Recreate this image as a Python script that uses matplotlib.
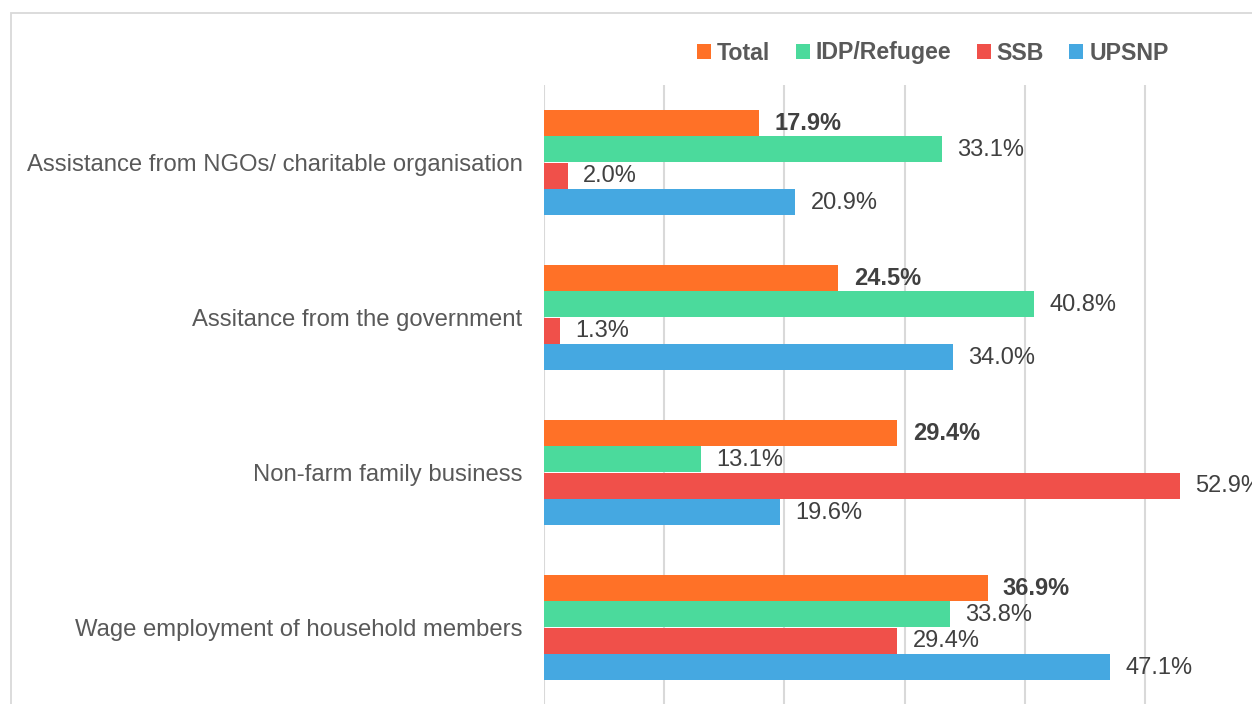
import matplotlib
matplotlib.use("Agg")
import matplotlib.pyplot as plt
from matplotlib.patches import Rectangle
import numpy as np

plt.rcParams['font.family'] = ['Liberation Sans', 'DejaVu Sans']

categories = ["Assistance from NGOs/ charitable organisation",
              "Assitance from the government",
              "Non-farm family business",
              "Wage employment of household members"]
series_names = ["Total", "IDP/Refugee", "SSB", "UPSNP"]
total = [17.9, 24.5, 29.4, 36.9]
idp = [33.1, 40.8, 13.1, 33.8]
ssb = [2.0, 1.3, 52.9, 29.4]
upsnp = [20.9, 34.0, 19.6, 47.1]
series_values = [total, idp, ssb, upsnp]
colors = ["#FF7127", "#4BDA9C", "#F0504A", "#45A8E1"]
xticks = [0, 10, 20, 30, 40, 50]

W, H = 1252, 704
fig = plt.figure(figsize=(W / 100, H / 100), dpi=100)

# chart border
fig.patches.append(Rectangle((11 / W, -0.1), 1.2, (H - 13) / H + 0.1,
                             transform=fig.transFigure, fill=False,
                             edgecolor="#D9D9D9", linewidth=1.3, zorder=0))

ax_left, ax_right = 544, 544 + 60 * 12.02
ax_top, ax_bottom = 85, 705
ax = fig.add_axes([ax_left / W, 1 - ax_bottom / H,
                   (ax_right - ax_left) / W, (ax_bottom - ax_top) / H])

y = np.arange(len(categories))
step = 0.171
bh = 0.165
for i, (name, vals, col) in enumerate(zip(series_names, series_values, colors)):
    pos = y + (i - 1.5) * step
    ax.barh(pos, vals, height=bh, color=col, label=name, zorder=3)
    for p, v in zip(pos, vals):
        ax.annotate(f"{v:.1f}%", xy=(v, p), xytext=(11, -0.5),
                    textcoords="offset points", va="center", ha="left",
                    fontsize=17, color="#404040",
                    fontweight="bold" if name == "Total" else "normal",
                    zorder=4, annotation_clip=False)

ax.set_xlim(0, 60)
ax.set_ylim(3.5, -0.5)
ax.set_xticks(xticks)
ax.set_xticklabels([])
ax.tick_params(axis='x', length=0)
ax.grid(axis='x', color="#D9D9D9", linewidth=1.5, zorder=0)
ax.set_yticks(y)
ax.set_yticklabels(categories, fontsize=17.2, color="#595959")
ax.tick_params(axis='y', length=0, pad=15.5)
for s in ax.spines.values():
    s.set_visible(False)
ax.set_facecolor("none")

leg = fig.legend(*ax.get_legend_handles_labels(), loc="center",
                 bbox_to_anchor=(933 / W, 1 - 53 / H), ncol=4, frameon=False,
                 handlelength=0.6, handleheight=0.6, handletextpad=0.25,
                 columnspacing=1.1,
                 prop={'size': 16.7, 'weight': 'bold'})
for t in leg.get_texts():
    t.set_color("#595959")

fig.savefig("out.png", dpi=100)
